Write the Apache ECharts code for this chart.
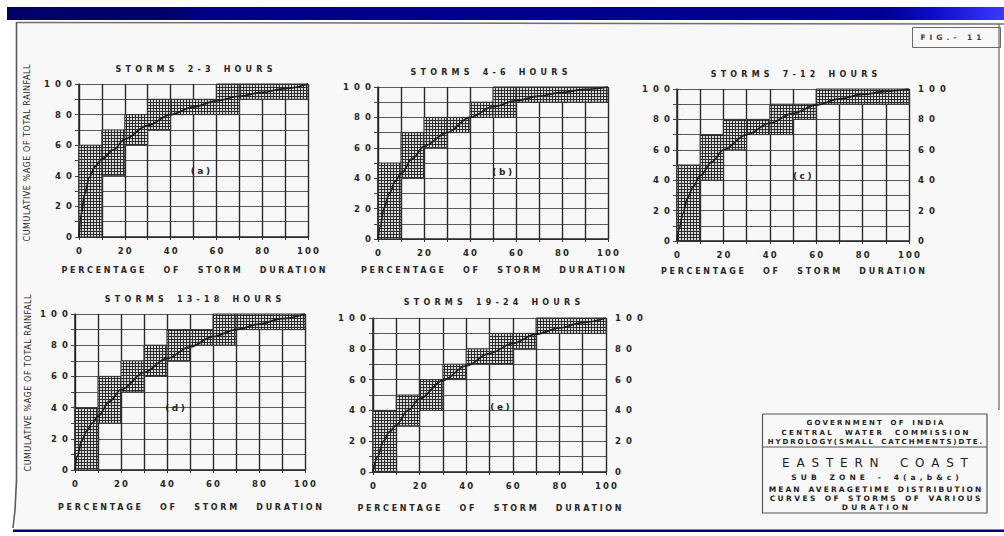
<!DOCTYPE html>
<html><head><meta charset="utf-8">
<script src="https://cdn.jsdelivr.net/npm/echarts@6/dist/echarts.min.js"></script>
<style>
html,body{margin:0;padding:0;background:#fff;}
#c{width:1004px;height:536px;}
</style></head>
<body><div id="c"></div>
<script>
// ---------- data ----------
const xTickLabels = [0, 20, 40, 60, 80, 100];
const yTickLabels = [0, 20, 40, 60, 80, 100];
const panelTitles = ['STORMS 2-3 HOURS', 'STORMS 4-6 HOURS', 'STORMS 7-12 HOURS', 'STORMS 13-18 HOURS', 'STORMS 19-24 HOURS'];
const panelLabels = ['(a)', '(b)', '(c)', '(d)', '(e)'];
const xName = 'PERCENTAGE OF STORM DURATION';
const yName = 'CUMULATIVE %AGE OF TOTAL RAINFALL';

// shaded ranges: [x from, x to, y from, y to]
const blocksA = [[0,10,0,60],[10,20,40,70],[20,30,60,80],[30,40,70,90],[40,60,80,90],[60,70,80,100],[70,100,90,100]];
const blocksB = [[0,10,0,50],[10,20,40,70],[20,30,60,80],[30,40,70,80],[40,50,80,90],[50,60,80,100],[60,100,90,100]];
const blocksC = [[0,10,0,50],[10,20,40,70],[20,30,60,80],[30,40,70,80],[40,50,70,90],[50,60,80,90],[60,100,90,100]];
const blocksD = [[0,10,0,40],[10,20,30,60],[20,30,50,70],[30,40,60,80],[40,50,70,90],[50,60,80,90],[60,70,80,100],[70,100,90,100]];
const blocksE = [[0,10,0,40],[10,20,30,50],[20,30,40,60],[30,40,60,70],[40,50,70,80],[50,60,70,90],[60,70,80,90],[70,100,90,100]];

// mean curves: [percent duration, cumulative percent rainfall]
const curveA = [[0,0],[1,15],[2.5,28],[4.5,39],[7,46],[10,51],[15,57],[20,64],[30,73],[40,80],[50,85],[60,89],[70,92],[80,94.5],[90,97],[100,100]];
const curveB = [[0,0],[1,8],[2.5,20],[5,30],[7.5,38],[10,43],[15,53],[20,61],[30,70],[40,80],[50,87],[60,91],[70,94],[80,96.5],[90,98.5],[100,100]];
const curveC = [[0,0],[1,8],[2.5,18],[4.5,28],[7,36],[10,43],[15,52],[20,60],[30,70],[40,77.5],[50,84],[60,89.5],[70,93.5],[80,96.5],[90,98.5],[100,100]];
const curveD = [[0,0],[1,9],[3,19],[5,25],[7.5,30],[10,34.5],[15,44],[20,51.5],[30,62.5],[40,71.5],[50,79],[60,85.5],[70,90],[80,93.5],[90,97],[100,100]];
const curveE = [[0,0],[2,10],[4.5,20],[7,26],[10,30.5],[15,40],[20,47.5],[30,59.5],[40,69],[50,77],[60,83.5],[70,89.5],[80,93.5],[90,97],[100,100]];

const labelAnchors = [[53,43],[54,44],[54,43],[43.5,40],[54.5,42]];

const blocks = [blocksA, blocksB, blocksC, blocksD, blocksE];
const curves = [curveA, curveB, curveC, curveD, curveE];

// ---------- layout ----------
const frames = [
  {left:79,  top:84,  width:229, height:153, nameGap:29, right:false},
  {left:378, top:87,  width:230, height:152, nameGap:27, right:false},
  {left:677, top:89,  width:232, height:152, nameGap:26, right:true},
  {left:75,  top:314, width:230, height:156, nameGap:33, right:false},
  {left:373, top:318, width:233, height:154, nameGap:32, right:true}
];
const titlePos = [[194,69],[489,72],[794,74],[193,299],[492,302]];
const yNamePos = [[27,153],[28,383]];

const INK = '#262626';
const FONT = 'DejaVu Sans';

// cross hatch pattern
const pc = document.createElement('canvas');
pc.width = 3; pc.height = 3;
const g = pc.getContext('2d');
g.fillStyle = '#dcdcdc';
g.fillRect(0,0,3,3);
g.fillStyle = '#2c2c2c';
g.fillRect(0,0,3,1); g.fillRect(0,0,1,3);
const hatch = {image: pc, repeat: 'repeat', imageWidth: 3, imageHeight: 3};

const tickFmt = v => (yTickLabels.indexOf(v) >= 0 ? String(v) : '');
const xTickFmt = v => (xTickLabels.indexOf(v) >= 0 ? String(v) : '');

const grids = [], xAxes = [], yAxes = [], series = [];
frames.forEach((f, i) => {
  grids.push({left:f.left, top:f.top, width:f.width, height:f.height, containLabel:false});
  xAxes.push({
    type:'value', gridIndex:i, min:0, max:100, interval:10,
    name:xName, nameLocation:'middle', nameGap:f.nameGap,
    nameTextStyle:{fontFamily:FONT, fontSize:8, fontWeight:'bold', color:INK, verticalAlign:'top'},
    axisLine:{show:true, onZero:false, lineStyle:{color:'#222', width:1.5}},
    axisTick:{show:true, length:3, lineStyle:{color:'#333'}},
    axisLabel:{formatter:xTickFmt, margin:9, fontFamily:FONT, fontSize:8.5, fontWeight:'bold', color:INK, showMinLabel:true, showMaxLabel:true, hideOverlap:false},
    splitLine:{show:true, lineStyle:{color:'#2a2a2a', width:1.4}}
  });
  yAxes.push({
    type:'value', gridIndex:i, min:0, max:100, interval:10, position:'left',
    axisLine:{show:true, onZero:false, lineStyle:{color:'#222', width:1.5}},
    axisTick:{show:true, length:4, lineStyle:{color:'#444'}},
    axisLabel:{formatter:tickFmt, margin:7, fontFamily:FONT, fontSize:8.5, fontWeight:'bold', color:INK, showMinLabel:true, showMaxLabel:true, hideOverlap:false},
    splitLine:{show:true, lineStyle:{color:'#5a5a5a', width:1}}
  });
});
frames.forEach((f, i) => {
  if (!f.right) return;
  yAxes.push({
    type:'value', gridIndex:i, min:0, max:100, interval:10, position:'right',
    axisLine:{show:false},
    axisTick:{show:true, length:4, lineStyle:{color:'#444'}},
    axisLabel:{formatter:tickFmt, margin:9, fontFamily:FONT, fontSize:8.5, fontWeight:'bold', color:INK, showMinLabel:true, showMaxLabel:true, hideOverlap:false},
    splitLine:{show:false}
  });
});

function renderBlock(params, api) {
  const a = api.coord([api.value(0), api.value(3)]);
  const b = api.coord([api.value(1), api.value(2)]);
  return {type:'rect', shape:{x:a[0], y:a[1], width:b[0]-a[0], height:b[1]-a[1]},
          style:{fill:hatch, stroke:'#333', lineWidth:1}};
}

frames.forEach((f, i) => {
  series.push({
    type:'custom', xAxisIndex:i, yAxisIndex:i, data:blocks[i],
    encode:{x:[0,1], y:[2,3]}, renderItem:renderBlock, silent:true, z:2
  });
  series.push({
    type:'line', xAxisIndex:i, yAxisIndex:i, data:curves[i], smooth:0.35, smoothMonotone:'x',
    showSymbol:false, symbol:'none', lineStyle:{color:'#1c1c1c', width:1.7}, z:4, silent:true
  });
  series.push({
    type:'custom', xAxisIndex:i, yAxisIndex:i, data:[labelAnchors[i]], silent:true, z:5,
    renderItem:(params, api) => {
      const p = api.coord([api.value(0), api.value(1)]);
      return {type:'text', x:p[0], y:p[1],
        style:{text:panelLabels[i], fontFamily:FONT, fontSize:9, fontWeight:'bold', fill:INK, align:'center', verticalAlign:'middle'}};
    }
  });
});

// ---------- page furniture ----------
const graphic = [];
graphic.push({type:'rect', z:-100, shape:{x:16, y:22, width:984, height:507}, style:{fill:'#f8f8f8'}});
graphic.push({type:'rect', shape:{x:7, y:7, width:997, height:13},
  style:{fill:{type:'linear', x:0, y:0, x2:1, y2:0, colorStops:[
    {offset:0, color:'#000066'},{offset:0.17, color:'#00006e'},{offset:0.2, color:'#000086'},
    {offset:0.5, color:'#00008e'},{offset:0.88, color:'#000094'},{offset:0.93, color:'#0c0cc8'},{offset:1, color:'#3a3aff'}]}}});
graphic.push({type:'rect', shape:{x:13, y:529.5, width:991, height:2.5}, style:{fill:'#000080'}});
graphic.push({type:'line', shape:{x1:17, y1:22.5, x2:1004, y2:24}, style:{stroke:'#707070', lineWidth:1.5}});
graphic.push({type:'polyline', shape:{points:[[16.5,22],[16.5,480],[15,510],[13,528]]}, style:{stroke:'#5a5a5a', lineWidth:1.6, fill:null}});
graphic.push({type:'line', shape:{x1:999, y1:24, x2:999, y2:410}, style:{stroke:'#707070', lineWidth:1.3}});
// FIG box
graphic.push({type:'rect', shape:{x:912.5, y:27.5, width:88, height:20}, style:{fill:null, stroke:'#6a6a6a', lineWidth:1}});
graphic.push({type:'text', x:951, y:37.5, style:{text:'FIG.- 11', fontFamily:FONT, fontSize:7.5, fontWeight:'bold', fill:'#444', align:'center', verticalAlign:'middle'}});
// titles
panelTitles.forEach((t, i) => {
  graphic.push({type:'text', x:titlePos[i][0], y:titlePos[i][1],
    style:{text:t, fontFamily:FONT, fontSize:8, fontWeight:'bold', fill:INK, align:'center', verticalAlign:'middle'}});
});
// y axis names
yNamePos.forEach(p => {
  graphic.push({type:'text', x:p[0], y:p[1], rotation:Math.PI/2,
    style:{text:yName, fontFamily:FONT, fontSize:8, fill:'#2a2a2a', align:'center', verticalAlign:'middle'}});
});
// title block
graphic.push({type:'polyline', shape:{points:[[762.5,414],[987,414],[987,513],[762.5,513],[762.5,414]]}, style:{stroke:'#555', lineWidth:1.2, fill:null}});
graphic.push({type:'line', shape:{x1:762.5, y1:447, x2:987, y2:447}, style:{stroke:'#555', lineWidth:1.2}});
const boxLines = [
  ['GOVERNMENT OF INDIA', 423, 7, 'bold'],
  ['CENTRAL WATER COMMISSION', 433, 7, 'bold'],
  ['HYDROLOGY(SMALL CATCHMENTS)DTE.', 442, 7, 'bold'],
  ['EASTERN COAST', 463, 12, 'normal'],
  ['SUB ZONE - 4(a,b&c)', 477, 7.5, 'bold'],
  ['MEAN AVERAGETIME DISTRIBUTION', 489, 7.5, 'bold'],
  ['CURVES OF STORMS OF VARIOUS', 498, 7.5, 'bold'],
  ['DURATION', 507, 7.5, 'bold']
];
boxLines.forEach(b => {
  graphic.push({type:'text', x:875, y:b[1],
    style:{text:b[0], fontFamily:FONT, fontSize:b[2], fontWeight:b[3], fill:'#1e1e1e', align:'center', verticalAlign:'middle'}});
});

const chart = echarts.init(document.getElementById('c'), null, {renderer:'svg', width:1004, height:536});
chart.setOption({
  animation:false,
  backgroundColor:'#ffffff',
  grid:grids, xAxis:xAxes, yAxis:yAxes, series:series, graphic:graphic
});

// letter spacing of the lettering (stencil-like wide spacing)
const spacing = {
  'PERCENTAGE OF STORM DURATION':[2.7, 11],
  'CUMULATIVE %AGE OF TOTAL RAINFALL':[0.55, 0],
  'FIG.- 11':[4, 0],
  'GOVERNMENT OF INDIA':[2.2, 2],
  'CENTRAL WATER COMMISSION':[2.4, 6],
  'HYDROLOGY(SMALL CATCHMENTS)DTE.':[1.9, 2],
  'EASTERN COAST':[6.8, 4],
  'SUB ZONE - 4(a,b&c)':[4.1, 2],
  'MEAN AVERAGETIME DISTRIBUTION':[2.1, 2],
  'CURVES OF STORMS OF VARIOUS':[2.4, 2],
  'DURATION':[3.2, 0]
};
function applySpacing() {
  document.querySelectorAll('#c svg text').forEach(t => {
    const s = t.textContent;
    const anchor = t.getAttribute('text-anchor');
    let ls = 0, ws = 0;
    if (spacing[s]) { ls = spacing[s][0]; ws = spacing[s][1]; }
    else if (s.indexOf('STORMS') === 0) { ls = 4.2; ws = 2; }
    else if (/^\d+$/.test(s)) { ls = anchor === 'middle' ? 2.1 : 5.1; }
    else if (/^\(.\)$/.test(s)) { ls = 2.5; }
    if (!ls && !ws) return;
    t.setAttribute('letter-spacing', ls);
    if (ws) t.setAttribute('word-spacing', ws);
    if (anchor === 'middle') t.setAttribute('dx', ls / 2);
    else if (anchor === 'end') t.setAttribute('dx', ls);
  });
}
applySpacing();
chart.on('finished', applySpacing);
</script>
</body></html>
